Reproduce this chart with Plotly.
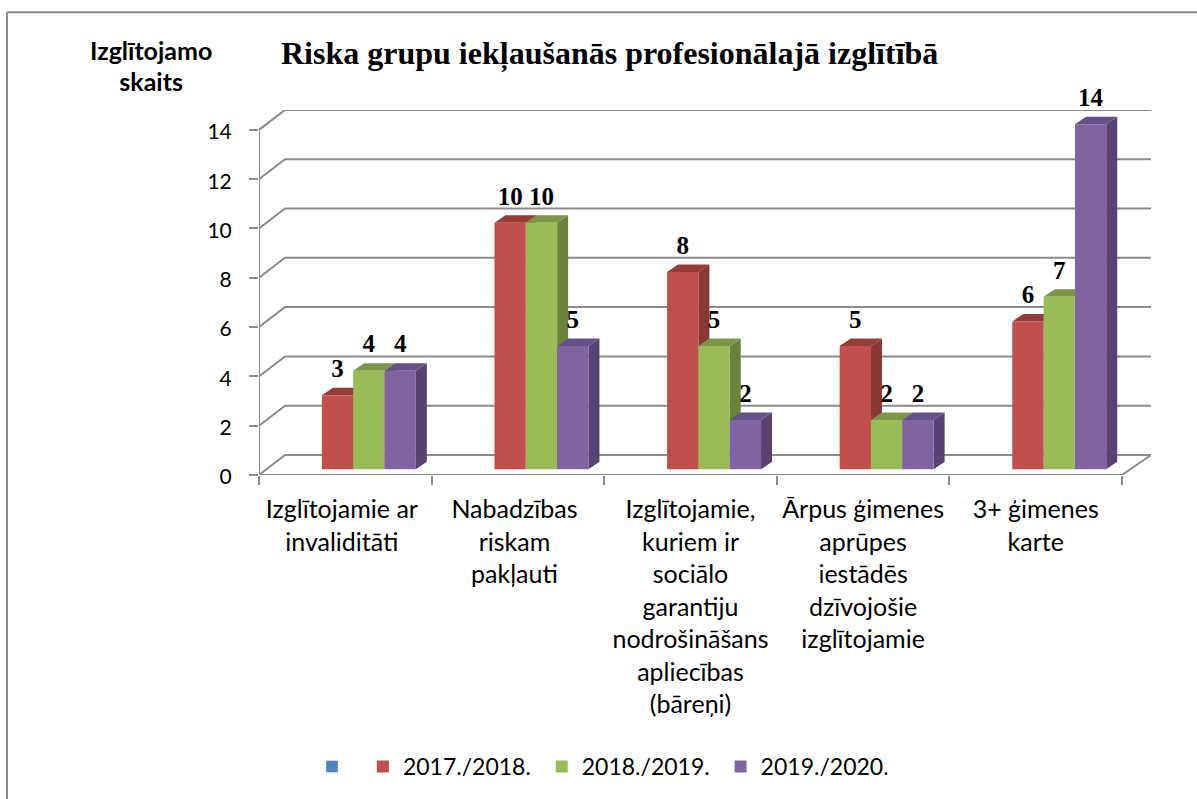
import plotly.graph_objects as go

categories = ["Izglītojamie ar|invaliditāti", "Nabadzības|riskam|pakļauti",
              "Izglītojamie,|kuriem ir|sociālo|garantiju|nodrošināšans|apliecības|(bāreņi)",
              "Ārpus ģimenes|aprūpes|iestādēs|dzīvojošie|izglītojamie", "3+ ģimenes|karte"]
series_names = ["2017./2018.", "2018./2019.", "2019./2020."]
values_2017 = [3, 10, 8, 5, 6]
values_2018 = [4, 10, 5, 2, 7]
values_2019 = [4, 5, 2, 2, 14]
y_ticks = [0, 2, 4, 6, 8, 10, 12, 14]

all_values = [values_2017, values_2018, values_2019]
front = ["#C0504D", "#9BBB59", "#8064A2"]
top_col = ["#953B39", "#7C9647", "#65508A"]
side_col = ["#8A3836", "#6B8339", "#574272"]
GRID = "#8C8C8C"

W, H = 1197, 799
L, R_PX, T_PX, B_PX = 259, 1151, 110, 475.7
PX_X, PX_Y = 172.6, 24.7
xr = [-0.5, -0.5 + (R_PX - L) / PX_X]
yr = [0, (B_PX - T_PX) / PX_Y]
WX, WY = 26 / PX_X, 20 / PX_Y          # wall depth
DX, DY = 11 / PX_X, 7.5 / PX_Y         # bar depth
BW = 31.3 / PX_X
BASE = 5.7 / PX_Y
LIFT = 12 / PX_Y
OFF = [-0.045, 0.1365, 0.318]
LABEL_NUDGE = [-0.02, -0.02, 0, 0, 0]

fig = go.Figure()
line = dict(color=GRID, width=2)

# walls and floor
gx, gy = [], []
for t in y_ticks:
    gx += [xr[0], xr[0] + WX, xr[1], None]
    gy += [t, t + WY, t + WY, None]
gx += [xr[0], xr[0], None, xr[0], 4.5, xr[1], None]
gy += [0, y_ticks[-1], None, 0, 0, WY, None]
fig.add_trace(go.Scatter(x=gx, y=gy, mode="lines", line=line, cliponaxis=False,
                         showlegend=False, hoverinfo="skip"))

# depth faces
for s, vals in enumerate(all_values):
    sx, sy, tx, ty = [], [], [], []
    for i, v in enumerate(vals):
        l = i + OFF[s] - BW / 2
        r = l + BW
        t = v + BASE
        sx += [r, r + DX, r + DX, r, r, None]
        sy += [t, t + DY, BASE + DY, BASE, t, None]
        tx += [l, l + DX, r + DX, r, l, None]
        ty += [t, t + DY, t + DY, t, t, None]
    fig.add_trace(go.Scatter(x=sx, y=sy, mode="lines", fill="toself", fillcolor=side_col[s],
                             line=dict(width=0), showlegend=False, hoverinfo="skip", cliponaxis=False))
    fig.add_trace(go.Scatter(x=tx, y=ty, mode="lines", fill="toself", fillcolor=top_col[s],
                             line=dict(width=0), showlegend=False, hoverinfo="skip", cliponaxis=False))

# front faces, on the overlaid axes
fig.add_trace(go.Bar(x=[None], y=[None], name=" ", marker_color="#4F81BD", xaxis="x2", yaxis="y2"))
for s, vals in enumerate(all_values):
    fig.add_trace(go.Bar(x=[i + OFF[s] for i in range(len(vals))], y=vals, base=BASE, width=BW,
                         name=series_names[s] + "\u00a0", marker=dict(color=front[s], line=dict(width=0)),
                         xaxis="x2", yaxis="y2"))
    fig.add_trace(go.Scatter(x=[i + OFF[s] for i in range(len(vals))], y=[v + BASE + LIFT for v in vals],
                             mode="text", text=[str(v) for v in vals], textposition="top center",
                             textfont=dict(family="Liberation Serif", size=25, color="black", weight="bold"),
                             cliponaxis=False, showlegend=False, xaxis="x2", yaxis="y2", hoverinfo="skip"))

ticktext = ["<br>".join(c.split("|")) for c in categories]

px = lambda v: (v - L) / (R_PX - L)
py = lambda v: 1 - (v - T_PX) / (B_PX - T_PX)

fig.update_layout(
    width=W, height=H, margin=dict(l=L, r=W - R_PX, t=T_PX, b=H - B_PX, pad=0),
    paper_bgcolor="white", plot_bgcolor="white", barmode="overlay",
    font=dict(family="Lato", color="black"),
    title=dict(text="<b>Riska grupu iekļaušanās profesionālajā izglītībā</b>",
               font=dict(family="Liberation Serif", size=32, color="black"),
               x=281 / W, xanchor="left", y=1 - 53 / H, yanchor="middle"),
    xaxis=dict(range=xr, showgrid=False, zeroline=False, showline=False, tickmode="array",
               tickvals=[i + LABEL_NUDGE[i] for i in range(len(categories))], ticktext=ticktext, ticks="",
               tickfont=dict(size=25, family="Lato", color="black"), tickangle=0,
               ticklabelstandoff=17),
    yaxis=dict(range=yr, showgrid=False, zeroline=False, showline=False, tickmode="array",
               tickvals=y_ticks, ticks="outside", ticklen=9, tickwidth=2, tickcolor=GRID,
               tickfont=dict(size=21, family="Lato", color="black"), ticklabelstandoff=13,
               ticklabelshift=2),
    xaxis2=dict(range=xr, overlaying="x", anchor="y2", side="bottom", showgrid=False, zeroline=False,
                showline=False, tickmode="array", tickvals=[i - 0.5 for i in range(len(categories) + 1)],
                ticks="outside", ticklen=9, tickwidth=2, tickcolor=GRID, showticklabels=False),
    yaxis2=dict(range=yr, overlaying="y", anchor="x2", showgrid=False, zeroline=False, showline=False,
                showticklabels=False, ticks=""),
    legend=dict(orientation="h", x=px(312), y=py(766), xanchor="left", yanchor="middle",
                font=dict(size=23, family="Lato", color="black"), bgcolor="rgba(0,0,0,0)",
                itemclick=False, itemdoubleclick=False, traceorder="normal"),
    shapes=[dict(type="line", xref="paper", yref="paper", x0=px(7), x1=px(7), y0=py(12), y1=py(H + 5), line=line),
            dict(type="line", xref="paper", yref="paper", x0=px(7), x1=px(W + 5), y0=py(12), y1=py(12), line=line)],
    annotations=[dict(text="<b><span style='font-size:25px'>Izglītojamo</span><br><span style='font-size:25px'>skaits</span></b>",
                      xref="paper", yref="paper", x=px(151), y=py(65), xanchor="center", yanchor="middle",
                      showarrow=False, font=dict(size=24, family="Lato", color="black"), align="center")],
)
fig.write_html("out.html", config=dict(displayModeBar=False),
               post_script="document.body.style.margin='0';document.body.style.overflow='hidden';")
